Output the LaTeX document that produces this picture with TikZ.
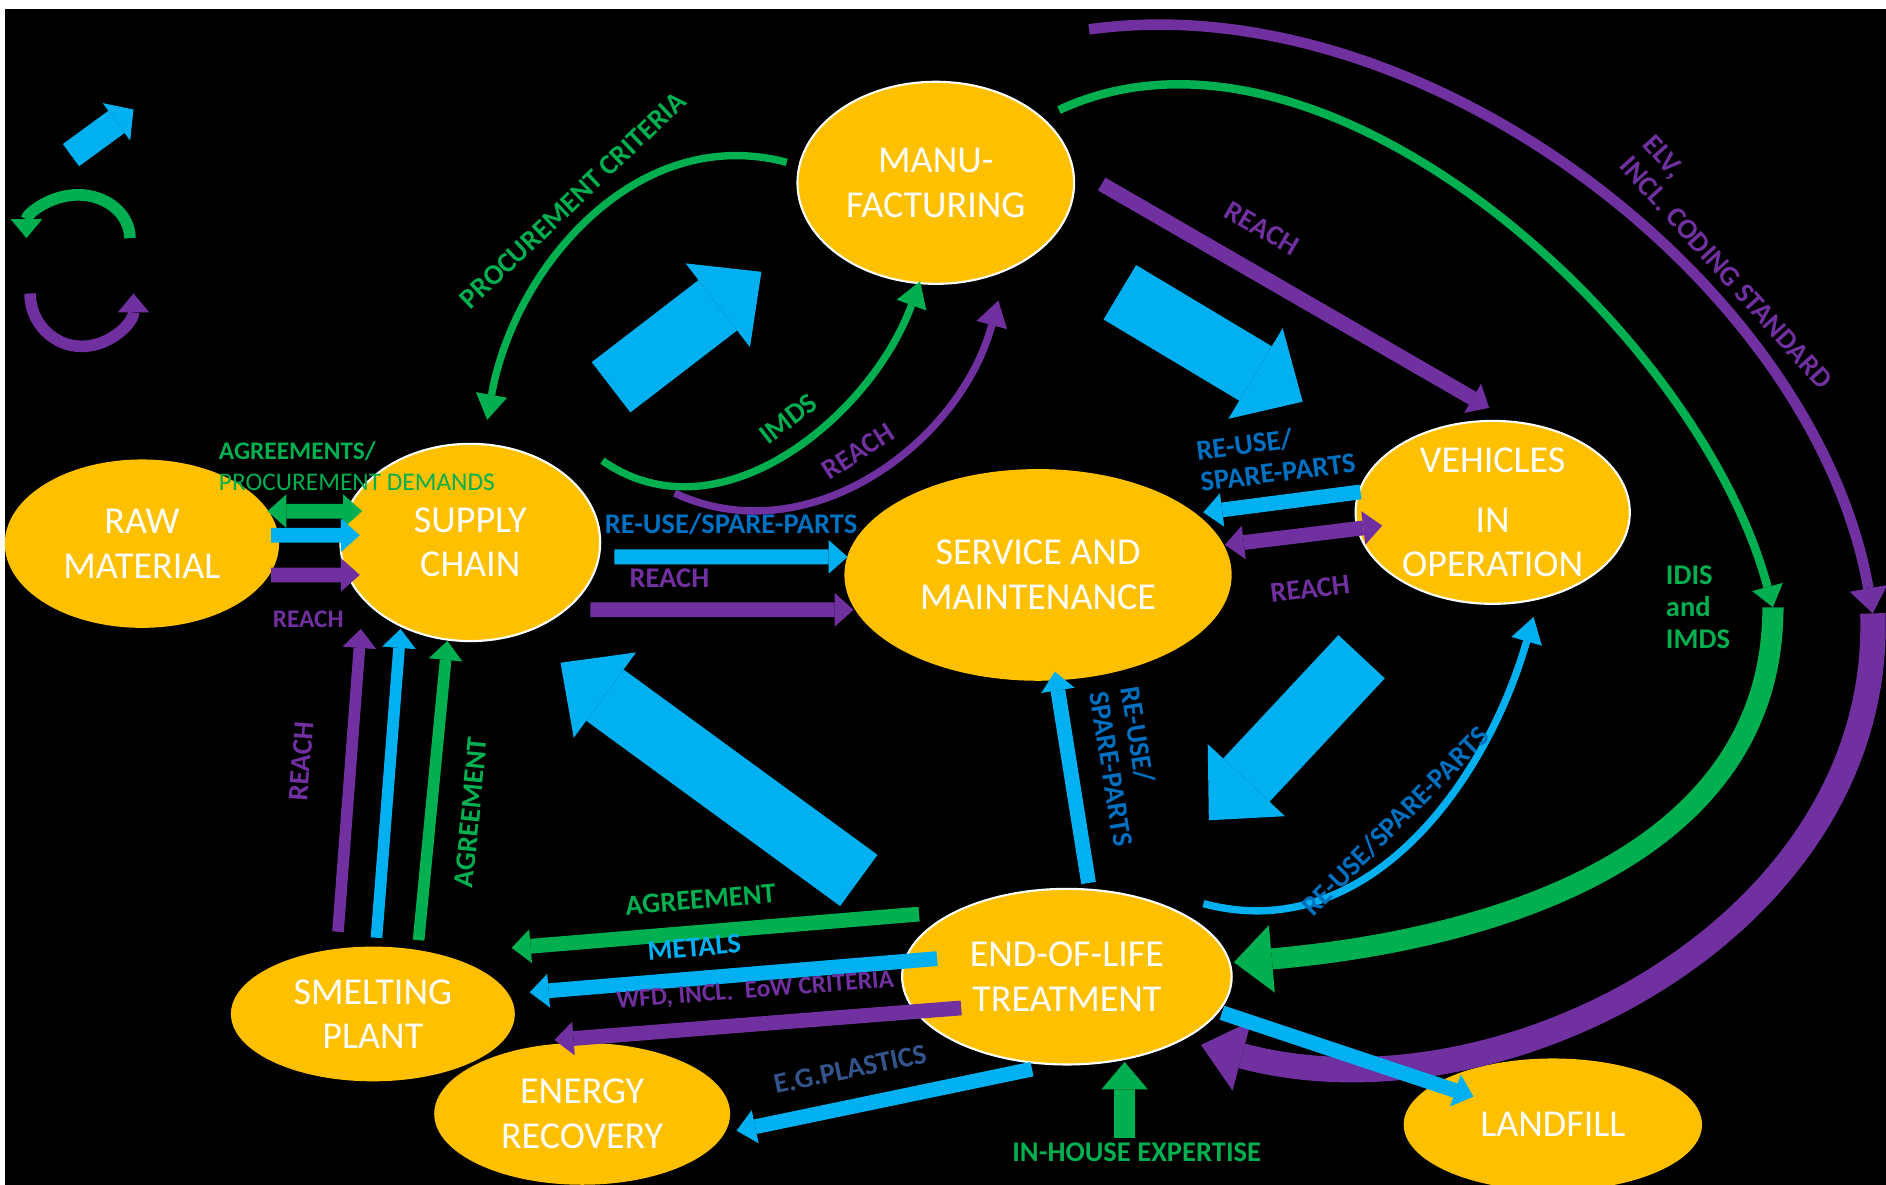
\documentclass[tikz,border=0pt]{standalone}
\usepackage{fontspec}
\setmainfont{Carlito}
\usetikzlibrary{shapes.geometric,arrows.meta}

\definecolor{yel}{HTML}{FFC000}
\definecolor{cyn}{HTML}{00B0F0}
\definecolor{grn}{HTML}{00B050}
\definecolor{pur}{HTML}{7030A0}
\definecolor{blu}{HTML}{0070C0}
\definecolor{nav}{HTML}{34558B}

\tikzset{
  stage/.style={ellipse, fill=yel, inner sep=0pt, text=white, align=center,
    font=\fontsize{18}{21}\selectfont},
  rim/.style={draw=white, line width=1pt},
  lbl/.style={font=\bfseries\fontsize{13.5}{15}\selectfont},
  small/.style={font=\bfseries\fontsize{12}{14}\selectfont},
  thinflow/.style={line width=7pt, -{Triangle[width=16pt,length=9pt,line width=0pt]}},
  twoflow/.style={line width=7pt, {Triangle[width=16pt,length=9pt,line width=0pt]}-{Triangle[width=16pt,length=9pt,line width=0pt]}},
  curveflow/.style={line width=3.5pt, -{Triangle[width=15pt,length=12pt,line width=0pt]}},
  bigflow/.style={cyn, line width=30pt, -{Triangle[width=50pt,length=26pt,line width=0pt]}},
}

\begin{document}
\begin{tikzpicture}
  \useasboundingbox (0,0) rectangle (31.36,19.7);
  \fill[white] (0,0) rectangle (31.36,19.7);
  \fill[black] (0.08,0) rectangle (31.36,19.55);

  \node[stage, minimum width=4.56cm, minimum height=2.8cm] (raw) at (2.36,10.66) {RAW\\MATERIAL};
  \node[stage, rim, minimum width=4.32cm, minimum height=3.28cm] (supply) at (7.82,10.68) {SUPPLY\\CHAIN};
  \node[stage, rim, minimum width=4.6cm, minimum height=3.36cm] (manu) at (15.56,16.66) {MANU-\\FACTURING};
  \node[stage, minimum width=6.44cm, minimum height=3.52cm] (service) at (17.26,10.14) {SERVICE AND\\MAINTENANCE};
  \node[stage, rim, minimum width=4.56cm, minimum height=2.96cm] (vehicles) at (24.82,11.18) {VEHICLES\\[0.26cm]IN\\OPERATION};
  \node[stage, rim, minimum width=5.48cm, minimum height=2.92cm] (eol) at (17.74,3.46) {END-OF-LIFE\\TREATMENT};
  \node[stage, minimum width=4.72cm, minimum height=2.24cm] (smelting) at (6.2,2.84) {SMELTING\\PLANT};
  \node[stage, minimum width=4.92cm, minimum height=2.36cm] (energy) at (9.68,1.18) {ENERGY\\RECOVERY};
  \node[stage, minimum width=4.96cm, minimum height=2.2cm] (landfill) at (25.82,1.0) {LANDFILL};
  \node[lbl, text=grn] (expert) at (18.9,0.54) {IN-HOUSE EXPERTISE};

  \coordinate (sup_man_a) at (10.16,13.26);
  \coordinate (sup_man_b) at (12.66,15.18);
  \coordinate (man_veh_a) at (18.62,14.84);
  \coordinate (man_veh_b) at (21.66,13.02);
  \coordinate (veh_eol_a) at (22.64,8.78);
  \coordinate (veh_eol_b) at (20.1,6.06);
  \coordinate (eol_sup_a) at (14.28,5.06);
  \coordinate (eol_sup_b) at (9.32,8.68);
  \coordinate (gbend) at (29.48,9.6);
  \coordinate (pbend) at (31.14,9.5);

  \draw[cyn, line width=13pt, -{Triangle[width=22pt,length=10pt,line width=0pt]}] (1.18,17.12) -- (2.22,17.88);
  \draw[grn, line width=5.5pt, -{Triangle[width=15pt,length=9pt,line width=0pt]}] (2.16,15.74) arc[start angle=0, end angle=180, x radius=0.86, y radius=0.72];
  \draw[pur, line width=5.5pt, -{Triangle[width=15pt,length=9pt,line width=0pt]}] (0.5,14.82) arc[start angle=180, end angle=360, x radius=0.86, y radius=0.88];

  \draw[bigflow] (sup_man_a) -- (sup_man_b);
  \draw[bigflow] (man_veh_a) -- (man_veh_b);
  \draw[bigflow] (veh_eol_a) -- (veh_eol_b);
  \draw[bigflow] (eol_sup_a) -- (eol_sup_b);

  \draw[grn, line width=4pt, -{Triangle[width=15pt,length=10pt,line width=0pt]}] ([shift={(0.41,0.01)}]manu.north east) to[out=25, in=105, looseness=0.85]
    node[at end, left=15pt, lbl, text=grn, align=left] {IDIS\\and\\IMDS} (gbend);
  \draw[grn, line width=10pt, -{Triangle[width=32pt,length=18pt,line width=0pt]}] (gbend) to[out=-90, in=5] ([shift={(0.02,0.24)}]eol.east);
  \draw[pur, line width=5pt, -{Triangle[width=18pt,length=12pt,line width=0pt]}] ([shift={(0.91,1.35)}]manu.north east) to[out=8, in=100, looseness=0.88]
    node[pos=0.65, above=0.1cm, sloped, lbl, text=pur, align=left] {ELV,\\INCL. CODING STANDARD} (pbend);
  \draw[pur, line width=12pt, -{Triangle[width=34pt,length=20pt,line width=0pt]}] (pbend) to[out=-88, in=-15] ([shift={(0.28,-0.09)}]eol.south east);

  \draw[twoflow, grn] ([shift={(-0.2,0.54)}]raw.east) -- ([shift={(0.38,0.52)}]supply.west)
    node[midway, above=0.1cm, xshift=0.7cm, align=left, text=grn, font=\fontsize{12}{14.5}\selectfont] {\textbf{AGREEMENTS/}\\PROCUREMENT DEMANDS};
  \draw[thinflow, cyn] ([shift={(-0.14,0.14)}]raw.east) -- ([shift={(0.34,0.12)}]supply.west);
  \draw[thinflow, pur] ([shift={(-0.14,-0.52)}]raw.east) -- ([shift={(0.34,-0.54)}]supply.west)
    node[midway, below=0.35cm, xshift=-0.12cm, small, text=pur] {REACH};

  \draw[thinflow, cyn] ([shift={(0.22,-0.24)}]supply.east) -- ([shift={(0.06,0.3)}]service.west)
    node[midway, above=0.12cm, lbl, text=blu] {RE-USE/SPARE-PARTS};
  \draw[thinflow, pur] ([shift={(-0.18,-1.12)}]supply.east) -- ([shift={(0.16,-0.58)}]service.west)
    node[pos=0.3, above=0.12cm, lbl, text=pur] {REACH};

  \draw[thinflow, cyn] ([shift={(0.1,0.34)}]vehicles.west) -- ([shift={(-0.48,1.04)}]service.east)
    node[midway, above=0.1cm, sloped, lbl, text=blu, align=left] {RE-USE/\\SPARE-PARTS};
  \draw[twoflow, pur] ([shift={(-0.12,0.5)}]service.east) -- ([shift={(0.46,-0.22)}]vehicles.west)
    node[midway, below=0.5cm, sloped, lbl, text=pur] {REACH};

  \draw[thinflow, pur] ([shift={(0.44,-0.02)}]manu.east) -- ([shift={(-0.06,0.2)}]vehicles.north)
    node[pos=0.36, above=0.3cm, sloped, lbl, text=pur] {REACH};

  \draw[thinflow, pur, line width=5.5pt] ([shift={(-0.58,0.24)}]smelting.north) -- ([shift={(-1.82,0.22)}]supply.south)
    node[pos=0.55, above=0.45cm, sloped, lbl, text=pur] {REACH};
  \draw[thinflow, cyn, line width=5.5pt] ([shift={(0.06,0.14)}]smelting.north) -- ([shift={(-1.16,0.22)}]supply.south);
  \draw[thinflow, grn, line width=5.5pt] ([shift={(0.76,0.1)}]smelting.north) -- ([shift={(-0.38,0.02)}]supply.south)
    node[pos=0.44, below=0.29cm, sloped, lbl, text=grn] {AGREEMENT};

  \draw[thinflow, grn] ([shift={(0.3,1.04)}]eol.west) -- ([shift={(-0.06,1.1)}]smelting.east)
    node[pos=0.53, above=0.14cm, sloped, lbl, text=grn] {AGREEMENT};
  \draw[thinflow, cyn] ([shift={(0.6,0.3)}]eol.west) -- ([shift={(0.24,0.36)}]smelting.east)
    node[pos=0.59, above=0.12cm, sloped, lbl, text=cyn] {METALS};
  \draw[thinflow, pur] ([shift={(1.0,-0.52)}]eol.west) -- ([shift={(-0.46,0.04)}]energy.north)
    node[pos=0.5, above=0.14cm, sloped, small, text=pur] {WFD, INCL.\ \ EoW CRITERIA};
  \draw[thinflow, cyn] ([shift={(-0.58,-0.06)}]eol.south) -- ([shift={(0.1,-0.28)}]energy.east)
    node[pos=0.59, above=0.22cm, sloped, lbl, text=nav] {E.G.PLASTICS};
  \draw[thinflow, cyn] ([shift={(0.36,0.08)}]eol.north) -- ([shift={(0.28,0.16)}]service.south)
    node[pos=0.51, above=0.27cm, sloped, lbl, text=blu, align=left] {RE-USE/\\SPARE-PARTS};
  \draw[thinflow, cyn] ([shift={(-0.18,-0.6)}]eol.east) -- ([shift={(-1.32,-0.64)}]landfill.north);
  \draw[grn, line width=10pt, -{Triangle[width=22pt,length=13pt,line width=0pt]}] ([shift={(-0.2,-0.04)}]expert.north) -- ([shift={(0.96,0.06)}]eol.south);

  \draw[curveflow, grn] ([shift={(-0.16,0.34)}]manu.west) to[out=165, in=80]
    node[midway, above=0.1cm, sloped, lbl, text=grn] {PROCUREMENT CRITERIA} ([shift={(0.28,0.38)}]supply.north);
  \draw[curveflow, grn] ([shift={(0.02,1.36)}]supply.east) to[out=-35, in=250]
    node[pos=0.55, above=0.1cm, sloped, lbl, text=grn] {IMDS} ([shift={(-0.26,0.06)}]manu.south);
  \draw[curveflow, pur] ([shift={(1.22,0.82)}]supply.east) to[out=-25, in=255]
    node[midway, above=0.1cm, sloped, lbl, text=pur] {REACH} ([shift={(1.04,-0.26)}]manu.south);
  \draw[curveflow, cyn] ([shift={(0.32,0.17)}]eol.north east) to[out=-15, in=254]
    node[midway, above=0.05cm, sloped, lbl, text=blu] {RE-USE/SPARE-PARTS} ([shift={(0.68,-0.2)}]vehicles.south);
\end{tikzpicture}
\end{document}
